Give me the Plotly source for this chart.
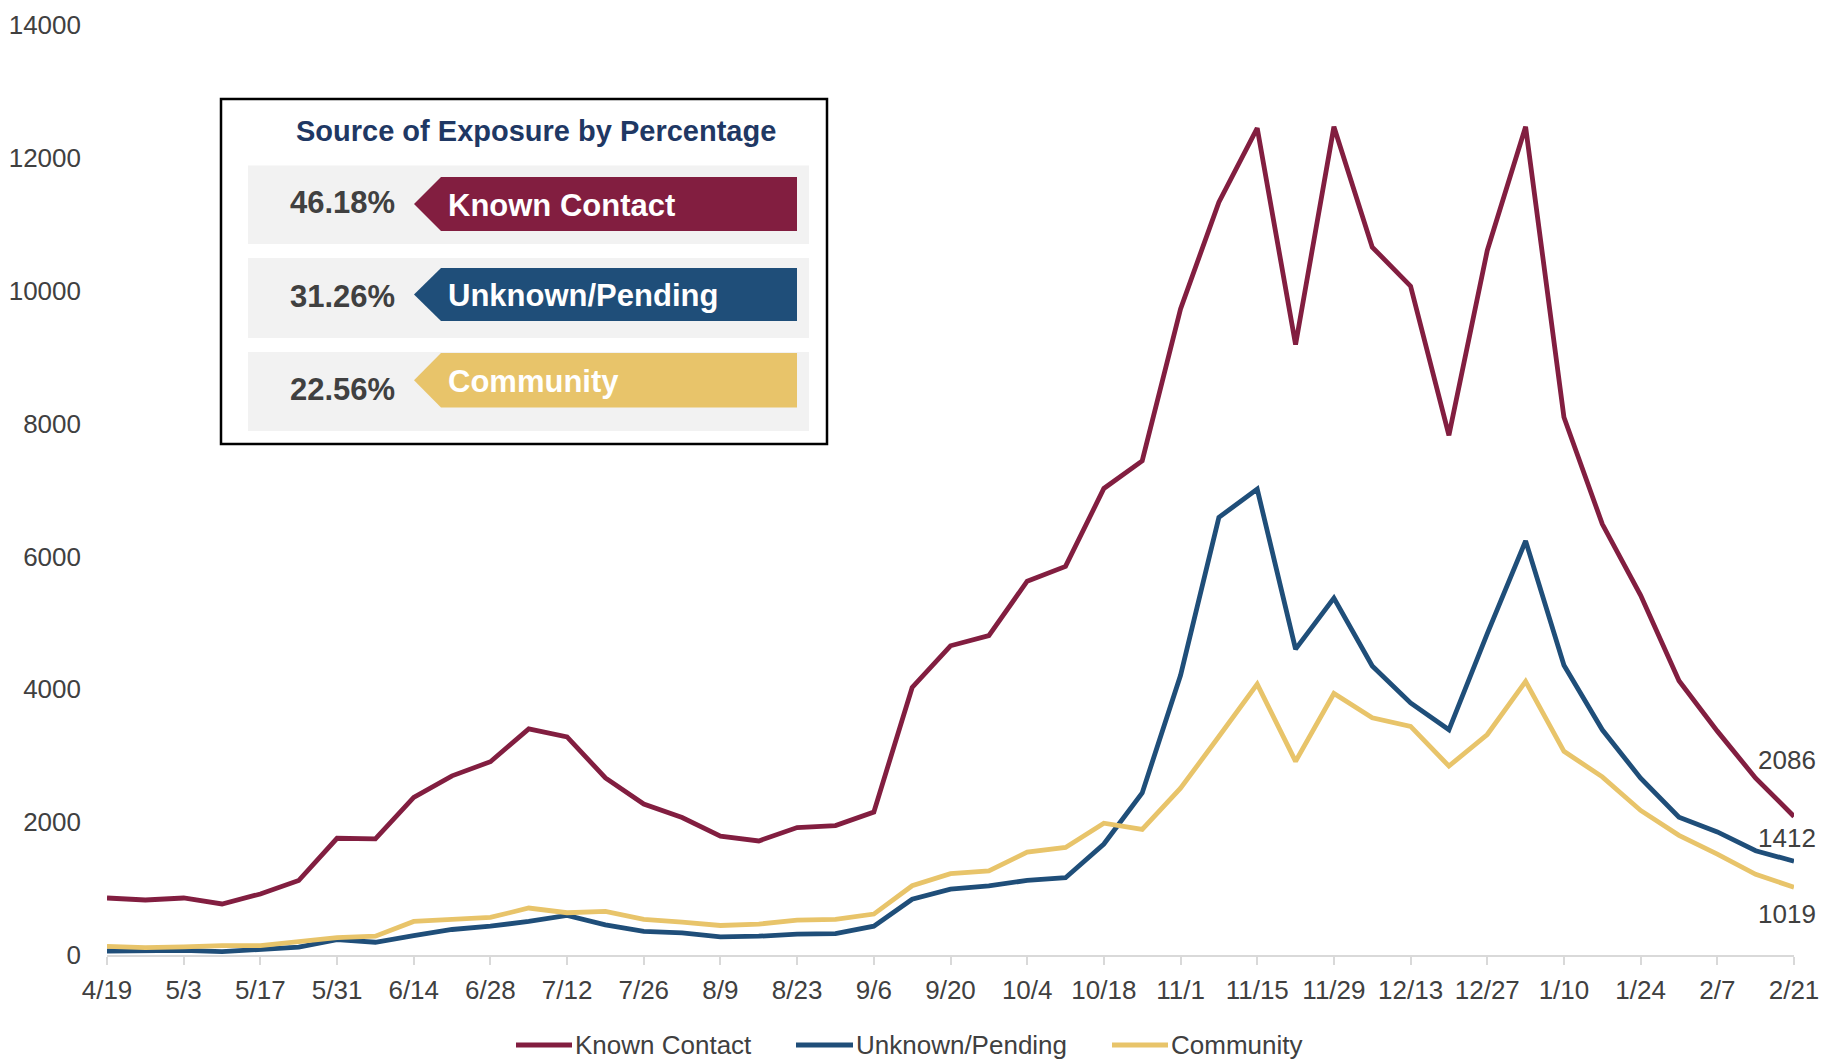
import plotly.graph_objects as go

weeks = ["4/19", "4/26", "5/3", "5/10", "5/17", "5/24", "5/31", "6/7", "6/14", "6/21",
         "6/28", "7/5", "7/12", "7/19", "7/26", "8/2", "8/9", "8/16", "8/23", "8/30",
         "9/6", "9/13", "9/20", "9/27", "10/4", "10/11", "10/18", "10/25", "11/1", "11/8",
         "11/15", "11/22", "11/29", "12/6", "12/13", "12/20", "12/27", "1/3", "1/10", "1/17",
         "1/24", "1/31", "2/7", "2/14", "2/21"]

known_contact = [858, 828, 858, 768, 919, 1121, 1757, 1747, 2373, 2697,
                 2909, 3404, 3282, 2666, 2272, 2070, 1788, 1717, 1919, 1949,
                 2151, 4028, 4655, 4807, 5627, 5850, 7023, 7438, 9725, 11334,
                 12448, 9189, 12468, 10656, 10069, 7823, 10606, 12468, 8096, 6487,
                 5414, 4129, 3370, 2662, 2086]

unknown_pending = [60, 60, 70, 50, 80, 120, 232, 192, 293, 384,
                   434, 505, 596, 455, 354, 333, 273, 283, 313, 323,
                   434, 840, 992, 1042, 1123, 1164, 1670, 2439, 4210, 6588,
                   7013, 4605, 5374, 4352, 3795, 3390, 4837, 6234, 4362, 3390,
                   2662, 2075, 1852, 1569, 1412]

community = [131, 111, 121, 141, 141, 202, 263, 283, 505, 535,
             566, 707, 636, 657, 535, 495, 444, 465, 525, 535,
             616, 1042, 1225, 1265, 1548, 1619, 1984, 1892, 2510, 3289,
             4078, 2915, 3937, 3572, 3441, 2844, 3319, 4119, 3066, 2682,
             2176, 1801, 1518, 1214, 1019]

tick_labels = weeks[::2]
y_ticks = [0, 2000, 4000, 6000, 8000, 10000, 12000, 14000]

series_names = ["Known Contact", "Unknown/Pending", "Community"]
percentages = ["46.18%", "31.26%", "22.56%"]

C_KNOWN = "#821E40"
C_UNK = "#1F4E79"
C_COMM = "#E8C46A"
colors = [C_KNOWN, C_UNK, C_COMM]
TXT = "#404040"
FONT = "Liberation Sans, Arial, sans-serif"

OFF = 8  # page body margin
W, H = 1841 - OFF, 1060 - OFF
L, R, T, B = 99, 47, 17, 105
PW, PH = W - L - R, H - T - B


def px(x):
    """screen x (px) -> paper"""
    return (x - OFF - L) / PW


def py(y):
    """screen y (px) -> paper"""
    return (H - B - (y - OFF)) / PH


fig = go.Figure()
for name, vals, col in zip(series_names, [known_contact, unknown_pending, community], colors):
    fig.add_trace(go.Scatter(x=weeks, y=vals, mode="lines", name=name,
                             line=dict(color=col, width=4.8), showlegend=False))

shapes = []
annotations = []

# end value labels
for vals, ys in zip([known_contact, unknown_pending, community], [56, 23, -27]):
    annotations.append(dict(x=weeks[-1], y=vals[-1], xref="x", yref="y", text=str(vals[-1]),
                            showarrow=False, xanchor="right", yanchor="middle",
                            xshift=24, yshift=ys, font=dict(size=26, color=TXT, family=FONT)))

# info box
shapes.append(dict(type="rect", xref="paper", yref="paper", x0=px(221), x1=px(827),
                   y0=py(99), y1=py(444), line=dict(color="black", width=2.5),
                   fillcolor="white", layer="above"))
annotations.append(dict(xref="paper", yref="paper", x=px(536), y=py(131),
                        text="<b>Source of Exposure by Percentage</b>",
                        showarrow=False, xanchor="center", yanchor="middle",
                        font=dict(size=29, color="#1F3864", family=FONT)))

rows = [(165.5, 244), (258, 338), (352, 431)]
banners = [(177, 231), (268, 321), (353, 407.5)]
for (r0, r1), (b0, b1), col, name, pct in zip(rows, banners, colors, series_names, percentages):
    shapes.append(dict(type="rect", xref="paper", yref="paper", x0=px(248), x1=px(809),
                       y0=py(r0), y1=py(r1), line=dict(width=0), fillcolor="#F2F2F2", layer="above"))
    ym = (b0 + b1) / 2
    path = (f"M {px(414)},{py(ym)} L {px(441)},{py(b0)} L {px(797)},{py(b0)} "
            f"L {px(797)},{py(b1)} L {px(441)},{py(b1)} Z")
    shapes.append(dict(type="path", xref="paper", yref="paper", path=path,
                       line=dict(width=0), fillcolor=col, layer="above"))
    annotations.append(dict(xref="paper", yref="paper", x=px(397), y=py((r0 + r1) / 2 - 2),
                            text=f"<b>{pct}</b>",
                            showarrow=False, xanchor="right", yanchor="middle",
                            font=dict(size=31, color=TXT, family=FONT)))
    annotations.append(dict(xref="paper", yref="paper", x=px(446), y=py(ym + 1), text=f"<b>{name}</b>",
                            showarrow=False, xanchor="left", yanchor="middle",
                            font=dict(size=31, color="white", family=FONT)))

# manual legend (bottom)
leg_y = 1045
leg_x = [(516, 572), (796, 853), (1112, 1168)]
for (x0, x1), col, name in zip(leg_x, colors, series_names):
    shapes.append(dict(type="line", xref="paper", yref="paper", x0=px(x0), x1=px(x1),
                       y0=py(leg_y), y1=py(leg_y), line=dict(color=col, width=5)))
    annotations.append(dict(xref="paper", yref="paper", x=px(x1 + 1), y=py(leg_y), text=name,
                            showarrow=False, xanchor="left", yanchor="middle",
                            font=dict(size=26, color=TXT, family=FONT)))

fig.update_layout(
    width=W, height=H,
    margin=dict(l=L, r=R, t=T, b=B, autoexpand=False),
    paper_bgcolor="white", plot_bgcolor="white",
    font=dict(family=FONT, size=26, color=TXT),
    showlegend=False,
    shapes=shapes,
    annotations=annotations,
)
fig.update_xaxes(type="category", range=[0, len(weeks) - 1], tickmode="array",
                 tickvals=tick_labels, ticktext=tick_labels,
                 showline=True, linecolor="#D9D9D9", linewidth=2,
                 ticks="outside", tickcolor="#D9D9D9", ticklen=8, tickwidth=2,
                 ticklabelstandoff=3, automargin=False, ticklabeloverflow="allow",
                 showgrid=False, zeroline=False, tickfont=dict(size=26, color=TXT))
fig.update_yaxes(range=[0, 14000], tickmode="array", tickvals=y_ticks,
                 ticktext=[str(v) for v in y_ticks], showgrid=False, zeroline=False,
                 showline=False, ticks="", ticklabelstandoff=25, automargin=False,
                 ticklabeloverflow="allow",
                 tickfont=dict(size=26, color=TXT))

fig.write_html("out.html")
